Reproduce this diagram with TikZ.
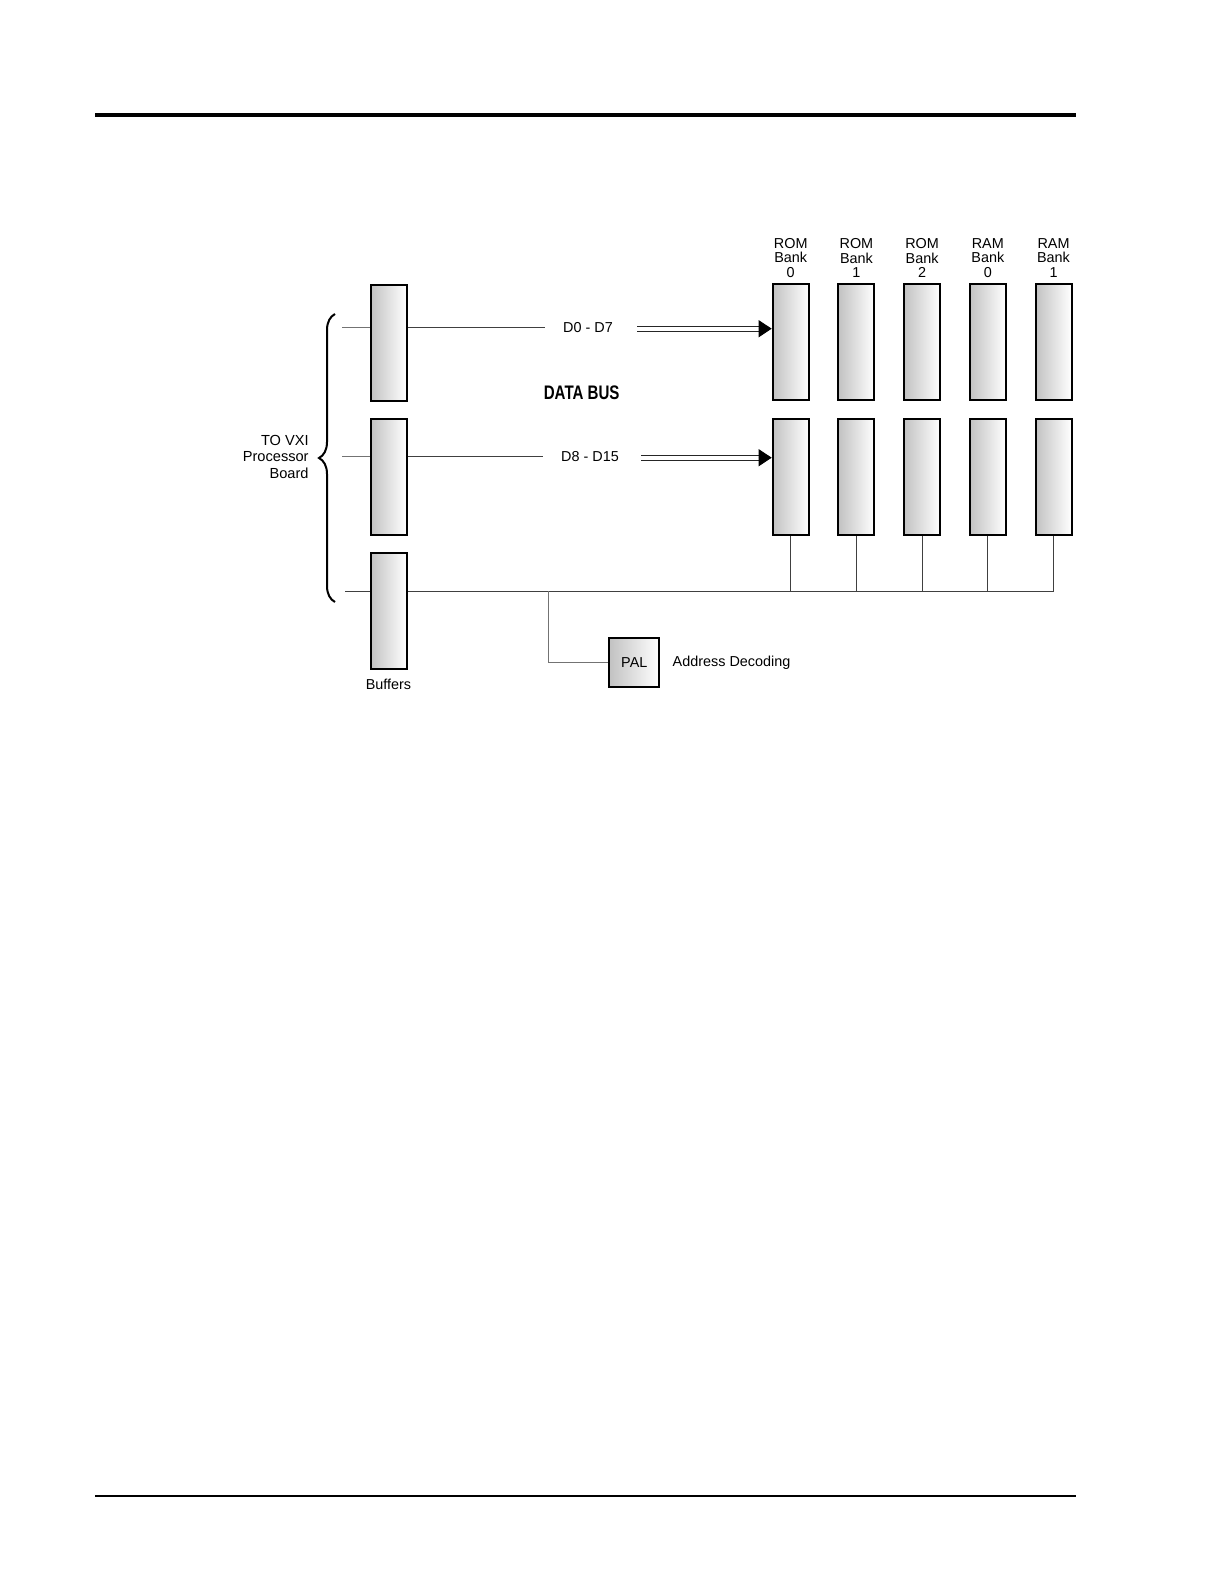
\documentclass[tikz,border=0pt]{standalone}
\usepackage{fontspec}
\setmainfont{Liberation Sans}
\newfontfamily\busfont[FakeStretch=0.77]{Liberation Sans}
\usepackage{tikz}
\usetikzlibrary{arrows.meta, positioning, calc, decorations.pathreplacing}
\colorlet{wireGray}{black!75}
\colorlet{stubGray}{black!55}
\colorlet{chipGray}{black!24}
\tikzset{
	chipbox/.style={draw, line width=1pt, minimum width=18pt, minimum height=58pt, inner sep=0pt, left color=chipGray, right color=white},
	palbox/.style={draw, line width=1pt, minimum width=25pt, minimum height=24.5pt, inner sep=0pt, left color=chipGray, right color=white, font=\fontsize{7.2}{8}\selectfont},
	lbl/.style={inner sep=0pt, font=\fontsize{7.2}{8}\selectfont},
	banklbl/.style={inner sep=0pt, align=center, font=\fontsize{7.2}{7.1}\selectfont},
	wire/.style={draw=wireGray, line width=0.5pt},
	stub/.style={draw=stubGray, line width=0.5pt},
	busline/.style={draw=black!85, line width=0.5pt},
	bustip/.style={draw=black, line width=0.5pt, -{Triangle[length=6.5pt, width=8.5pt]}},
	brace/.style={decorate, decoration={brace, amplitude=8pt}, line width=1pt},
}

\begin{document}
\begin{tikzpicture}[x=0.5pt, y=-0.5pt]
	\useasboundingbox (0,0) rectangle (1224,1584);
	% page rules
	\draw[line width=2pt] (95,115.3) -- (1076,115.3);
	\draw[line width=1.1pt] (95,1496) -- (1076,1496);

	% buffers
	\node[chipbox] (buf0) at (388.5,343) {};
	\node[chipbox] (buf1) at (388.5,477) {};
	\node[chipbox] (buf2) at (388.5,610.6) {};
	\node[lbl, below=4.5pt of buf2] (buflbl) {Buffers};

	% memory banks
	\foreach \name/\kind/\num [count=\i from 0] in {rom0/ROM/0, rom1/ROM/1, rom2/ROM/2, ram0/RAM/0, ram1/RAM/1} {
		\node[chipbox] (top\name) at (790.7+65.7*\i,341.7) {};
		\node[chipbox] (bot\name) at (790.7+65.7*\i,477) {};
		\node[banklbl] (lbl\name) at (790.7+65.7*\i,258) {\kind\\Bank\\\num};
	}

	% processor side
	\node[inner sep=0pt, align=right, anchor=east, font=\fontsize{7.3}{8.25}\selectfont] (vxi) at (309,456.7) {TO VXI\\Processor\\Board};
	\draw[brace] (335,602) -- (335,314);
	\coordinate (in0) at (342,327.5);
	\coordinate (in1) at (342,456.3);
	\coordinate (in2) at (345,591);
	\draw[stub] (in0) -- (in0 -| buf0.west);
	\draw[stub] (in1) -- (in1 -| buf1.west);
	\draw[wire] (in2) -- (in2 -| buf2.west);

	% data bus
	\node[lbl] (d07) at (588,327.5) {D0 - D7};
	\node[lbl] (d815) at (590,456.5) {D8 - D15};
	\node[inner sep=0pt, font=\busfont\bfseries\fontsize{9.8}{10}\selectfont] (dbus) at (581.7,392.7) {DATA BUS};
	\coordinate (tip0) at ([yshift=-0.6pt]d07 -| toprom0.west);
	\coordinate (tip1) at ([yshift=-0.6pt]d815 -| botrom0.west);
	\draw[wire] (buf0.east |- d07) -- ([xshift=-9pt]d07.west);
	\draw[busline] ([xshift=12pt, yshift=1.25pt]d07.east |- tip0) -- ([xshift=-5pt, yshift=1.25pt]tip0);
	\draw[busline] ([xshift=12pt, yshift=-1.25pt]d07.east |- tip0) -- ([xshift=-5pt, yshift=-1.25pt]tip0);
	\draw[bustip] ([xshift=-6.5pt]tip0) -- (tip0);
	\draw[wire] (buf1.east |- d815) -- ([xshift=-9pt]d815.west);
	\draw[busline] ([xshift=11pt, yshift=1.25pt]d815.east |- tip1) -- ([xshift=-5pt, yshift=1.25pt]tip1);
	\draw[busline] ([xshift=11pt, yshift=-1.25pt]d815.east |- tip1) -- ([xshift=-5pt, yshift=-1.25pt]tip1);
	\draw[bustip] ([xshift=-6.5pt]tip1) -- (tip1);

	% address bus
	\coordinate (tap) at (548,591);
	\draw[wire] (buf2.east |- tap) -- (botram1.south |- tap);
	\foreach \name in {rom0, rom1, rom2, ram0, ram1}
		\draw[wire] (bot\name.south) -- (bot\name.south |- tap);
	\node[palbox] (pal) at (634.3,662.8) {PAL};
	\node[lbl, right=6pt of pal] (adec) {Address Decoding};
	\draw[stub] (tap) |- (pal.west);
\end{tikzpicture}
\end{document}
